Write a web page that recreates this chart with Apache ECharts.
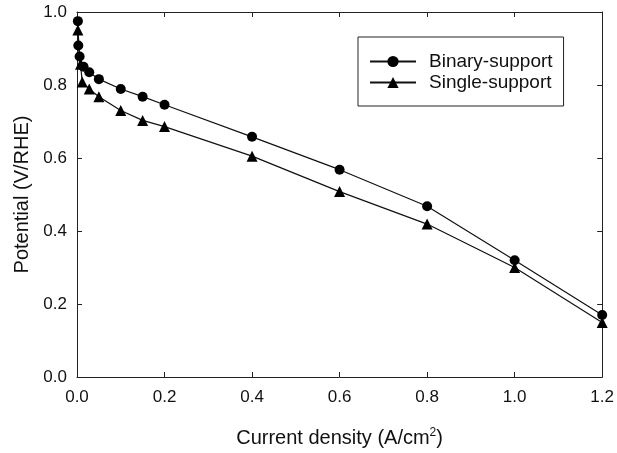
<!DOCTYPE html>
<html>
<head>
<meta charset="utf-8">
<script src="https://cdn.jsdelivr.net/npm/echarts@6/dist/echarts.min.js"></script>
<style>html,body{margin:0;padding:0;background:#fff}#c{width:617px;height:453px}</style>
</head>
<body>
<div id="c"></div>
<script>
var binaryX = [0.002, 0.003, 0.006, 0.015, 0.028, 0.05, 0.1, 0.15, 0.2, 0.4, 0.6, 0.8, 1.0, 1.2];
var binaryY = [0.975, 0.908, 0.878, 0.850, 0.835, 0.816, 0.789, 0.768, 0.746, 0.658, 0.568, 0.468, 0.320, 0.170];
var singleX = [0.002, 0.008, 0.012, 0.028, 0.05, 0.1, 0.15, 0.2, 0.4, 0.6, 0.8, 1.0, 1.2];
var singleY = [0.951, 0.857, 0.808, 0.789, 0.768, 0.730, 0.703, 0.686, 0.605, 0.508, 0.419, 0.300, 0.149];
var seriesNames = ['Binary-support', 'Single-support'];
var xTicks = [0, 0.2, 0.4, 0.6, 0.8, 1.0, 1.2];
var yTicks = [0, 0.2, 0.4, 0.6, 0.8, 1.0];

function pairs(xs, ys) { return xs.map(function (x, i) { return [x, ys[i]]; }); }

var font = 'Liberation Sans, Arial, sans-serif';
var axisColor = '#222';
var chart = echarts.init(document.getElementById('c'));
var baseX = {
  type: 'value', min: xTicks[0], max: xTicks[xTicks.length - 1], interval: 0.2,
  axisLine: { show: true, onZero: false, lineStyle: { color: axisColor, width: 1 } },
  axisTick: { show: true, inside: true, length: 5, lineStyle: { color: axisColor } },
  splitLine: { show: false }
};
var baseY = {
  type: 'value', min: yTicks[0], max: yTicks[yTicks.length - 1], interval: 0.2,
  axisLine: { show: true, onZero: false, lineStyle: { color: axisColor, width: 1 } },
  axisTick: { show: true, inside: true, length: 5, lineStyle: { color: axisColor } },
  splitLine: { show: false }
};
chart.setOption({
  animation: false,
  backgroundColor: '#fff',
  grid: { left: 77, right: 12, top: 12, bottom: 71, containLabel: false },
  legend: {
    orient: 'vertical', left: 358, top: 37,
    data: seriesNames,
    itemWidth: 46, itemHeight: 14, itemGap: 2,
    padding: [15, 11, 14, 11],
    borderColor: '#222', borderWidth: 1,
    textStyle: { fontFamily: font, fontSize: 19, color: '#111', padding: [0, 0, 0, 8] }
  },
  xAxis: [
    Object.assign({}, baseX, {
      position: 'bottom',
      axisLabel: { show: true, fontFamily: font, fontSize: 17, color: '#111', margin: 12,
        formatter: function (v) { return v.toFixed(1); } },
      name: '{a|Current density (A/cm}{s|2}{a|)}',
      nameLocation: 'middle', nameGap: 50,
      nameTextStyle: { rich: { a: { fontFamily: font, fontSize: 20, color: '#111' },
        s: { fontFamily: font, fontSize: 12, color: '#111', verticalAlign: 'top', padding: [0, 0, 10, 0] } } }
    }),
    Object.assign({}, baseX, { position: 'top', axisLabel: { show: false } })
  ],
  yAxis: [
    Object.assign({}, baseY, {
      position: 'left',
      axisLabel: { show: true, fontFamily: font, fontSize: 17, color: '#111', margin: 10,
        formatter: function (v) { return v.toFixed(1); } },
      name: 'Potential (V/RHE)', nameLocation: 'middle', nameGap: 45, nameRotate: 90,
      nameTextStyle: { fontFamily: font, fontSize: 20, color: '#111' }
    }),
    Object.assign({}, baseY, { position: 'right', axisLabel: { show: false } })
  ],
  series: [
    { name: seriesNames[0], type: 'line', data: pairs(binaryX, binaryY),
      symbol: 'circle', symbolSize: 10, color: '#000',
      lineStyle: { color: '#111', width: 1.2 }, itemStyle: { color: '#000' } },
    { name: seriesNames[1], type: 'line', data: pairs(singleX, singleY),
      symbol: 'triangle', symbolSize: 11, color: '#000',
      lineStyle: { color: '#111', width: 1.2 }, itemStyle: { color: '#000' } }
  ]
});
</script>
</body>
</html>
